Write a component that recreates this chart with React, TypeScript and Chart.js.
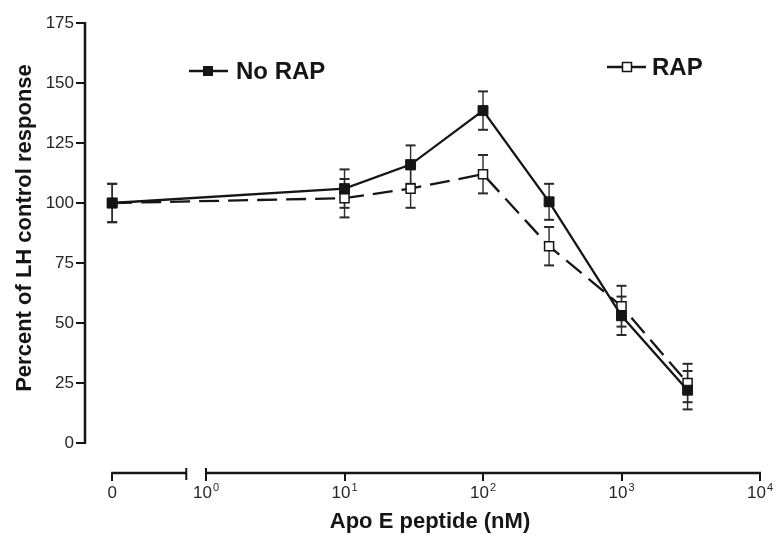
import React, { useEffect, useRef } from "react";
import { Chart, registerables } from "chart.js";

Chart.register(...registerables);

// ---- data ----
const CONC = [0, 10, 30, 100, 300, 1000, 3000]; // nM
const NO_RAP = [100, 106, 116, 138.5, 100.5, 53, 22];
const NO_RAP_ERR = [8, 8, 8, 8, 7.5, 8, 8];
const RAP = [100, 102, 106, 112, 82, 57, 25];
const RAP_ERR = [8, 8, 8, 8, 8, 8.5, 8];
const Y_TICKS = [0, 25, 50, 75, 100, 125, 150, 175];
const X_TICKS = [0, 1, 10, 100, 1000, 10000];
const X_TICK_BASE = ["0", "10", "10", "10", "10", "10"];
const X_TICK_EXP = ["", "0", "1", "2", "3", "4"];
const SERIES_LABELS = ["No RAP", "RAP"];
const X_TITLE = "Apo E peptide (nM)";
const Y_TITLE = "Percent of LH control response";

// the "0" concentration is placed left of an axis break on the log axis
const ZERO_AT = 0.21;
const BREAK_END = 0.72;
const xv = (c: number) => (c === 0 ? ZERO_AT : c);

const INK = "#151515";
const TICK_INK = "#262626";
const FONT = "'Liberation Sans', Arial, Helvetica, sans-serif";

const line = (ctx: CanvasRenderingContext2D, x1: number, y1: number, x2: number, y2: number) => {
  ctx.beginPath();
  ctx.moveTo(x1, y1);
  ctx.lineTo(x2, y2);
  ctx.stroke();
};

const errorBars = {
  id: "errorBars",
  beforeDatasetsDraw(chart: any) {
    const { ctx, scales } = chart;
    const x = scales.x;
    const y = scales.y;
    const sets: [number[], number[]][] = [
      [RAP, RAP_ERR],
      [NO_RAP, NO_RAP_ERR],
    ];
    ctx.save();
    ctx.strokeStyle = "#2a2a2a";
    sets.forEach(([vals, errs]) => {
      vals.forEach((v, i) => {
        const px = x.getPixelForValue(xv(CONC[i]));
        const top = y.getPixelForValue(v + errs[i]);
        const bot = y.getPixelForValue(v - errs[i]);
        ctx.lineWidth = 1.4;
        line(ctx, px, top, px, bot);
        ctx.lineWidth = 2;
        line(ctx, px - 5, top, px + 5, top);
        line(ctx, px - 5, bot, px + 5, bot);
      });
    });
    ctx.restore();
  },
};

const axesAndText = {
  id: "axesAndText",
  afterDraw(chart: any) {
    const { ctx, scales, chartArea } = chart;
    const x = scales.x;
    const y = scales.y;
    ctx.save();
    ctx.strokeStyle = INK;
    ctx.lineWidth = 2.5;
    ctx.lineCap = "butt";
    // y axis line (0..175)
    const ax = chartArea.left;
    line(ctx, ax, y.getPixelForValue(0) + 1, ax, y.getPixelForValue(175) - 1);
    // x axis with break
    const by = chartArea.bottom;
    const x0 = x.getPixelForValue(ZERO_AT);
    const xb = x.getPixelForValue(BREAK_END);
    const x1 = x.getPixelForValue(1);
    const x4 = x.getPixelForValue(10000);
    line(ctx, x0 - 1, by, xb, by);
    line(ctx, x1, by, x4 + 1, by);
    ctx.lineWidth = 2;
    line(ctx, xb, by - 5, xb, by + 7);
    line(ctx, x1, by - 5, x1, by + 7);

    // x tick labels with real superscripts
    ctx.fillStyle = TICK_INK;
    ctx.textBaseline = "alphabetic";
    ctx.textAlign = "left";
    X_TICKS.forEach((t, i) => {
      const px = x.getPixelForValue(xv(t));
      ctx.font = `17px ${FONT}`;
      const wb = ctx.measureText(X_TICK_BASE[i]).width;
      ctx.font = `11px ${FONT}`;
      const we = X_TICK_EXP[i] ? ctx.measureText(X_TICK_EXP[i]).width + 1 : 0;
      const start = px - (wb + we) / 2;
      const base = by + 25;
      ctx.font = `17px ${FONT}`;
      ctx.fillText(X_TICK_BASE[i], start, base);
      if (X_TICK_EXP[i]) {
        ctx.font = `11px ${FONT}`;
        ctx.fillText(X_TICK_EXP[i], start + wb + 1, base - 7);
      }
    });

    // axis titles
    ctx.fillStyle = INK;
    ctx.font = `bold 22px ${FONT}`;
    ctx.textAlign = "center";
    ctx.textBaseline = "middle";
    ctx.fillText(X_TITLE, 430, 522);
    ctx.save();
    ctx.translate(25, 228);
    ctx.rotate(-Math.PI / 2);
    ctx.fillText(Y_TITLE, 0, 0);
    ctx.restore();

    // legend: No RAP
    ctx.lineWidth = 2.5;
    ctx.strokeStyle = INK;
    line(ctx, 189, 71, 228, 71);
    ctx.fillStyle = INK;
    ctx.fillRect(203, 66, 10, 10);
    ctx.font = `bold 24px ${FONT}`;
    ctx.textAlign = "left";
    ctx.textBaseline = "middle";
    ctx.fillText(SERIES_LABELS[0], 236, 72);
    // legend: RAP
    line(ctx, 607, 67, 622, 67);
    line(ctx, 632, 67, 646, 67);
    ctx.fillStyle = "#fff";
    ctx.fillRect(622.5, 62.5, 9, 9);
    ctx.lineWidth = 1.5;
    ctx.strokeRect(622.5, 62.5, 9, 9);
    ctx.fillStyle = INK;
    ctx.fillText(SERIES_LABELS[1], 652, 68);
    ctx.restore();
  },
};

export default function App() {
  const ref = useRef<HTMLCanvasElement | null>(null);

  useEffect(() => {
    if (!ref.current) return;
    const chart = new Chart(ref.current, {
      type: "line",
      data: {
        datasets: [
          {
            label: SERIES_LABELS[0],
            data: CONC.map((c, i) => ({ x: xv(c), y: NO_RAP[i] })),
            borderColor: INK,
            borderWidth: 2.3,
            pointStyle: "rect",
            pointRadius: 7,
            pointBackgroundColor: INK,
            pointBorderColor: INK,
            pointBorderWidth: 1,
            tension: 0,
            fill: false,
          },
          {
            label: SERIES_LABELS[1],
            data: CONC.map((c, i) => ({ x: xv(c), y: RAP[i] })),
            borderColor: INK,
            borderWidth: 2.3,
            borderDash: [20, 9],
            pointStyle: "rect",
            pointRadius: 6.4,
            pointBackgroundColor: "#ffffff",
            pointBorderColor: INK,
            pointBorderWidth: 1.5,
            tension: 0,
            fill: false,
          },
        ],
      },
      options: {
        animation: false,
        responsive: false,
        devicePixelRatio: 1,
        layout: { padding: { top: 23, right: 17, left: 0, bottom: 0 } },
        plugins: {
          legend: { display: false },
          tooltip: { enabled: false },
        },
        scales: {
          x: {
            type: "logarithmic",
            min: 0.1337,
            max: 10000,
            afterFit: (s: any) => {
              s.height = 66;
            },
            afterBuildTicks: (s: any) => {
              s.ticks = X_TICKS.map((v) => ({ value: xv(v) }));
            },
            border: { display: false },
            grid: {
              display: true,
              drawOnChartArea: false,
              drawTicks: true,
              tickLength: 8,
              color: INK,
              lineWidth: 2,
            },
            ticks: { display: false, autoSkip: false },
          },
          y: {
            type: "linear",
            min: -12.5,
            max: 175,
            afterFit: (s: any) => {
              s.width = 85;
            },
            afterBuildTicks: (s: any) => {
              s.ticks = Y_TICKS.map((v) => ({ value: v }));
            },
            border: { display: false },
            grid: {
              display: true,
              drawOnChartArea: false,
              drawTicks: true,
              tickLength: 9,
              color: INK,
              lineWidth: 2,
            },
            ticks: {
              padding: 2,
              color: TICK_INK,
              font: { family: FONT, size: 17 },
              callback: (v: any) => String(v),
            },
          },
        },
      },
      plugins: [errorBars, axesAndText],
    } as any);
    return () => chart.destroy();
  }, []);

  return (
    <div style={{ position: "fixed", left: 0, top: 0, width: 777, height: 539, background: "#fff" }}>
      <canvas ref={ref} width={777} height={539} style={{ width: 777, height: 539, display: "block" }} />
    </div>
  );
}
